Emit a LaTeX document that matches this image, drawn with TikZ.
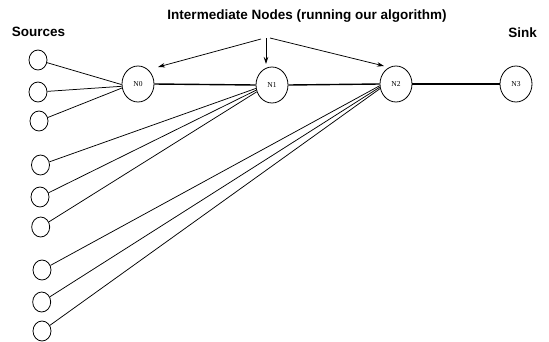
\documentclass[tikz,border=0pt]{standalone}
\usepackage{fontspec}
\setmainfont{Liberation Serif}
\setsansfont{Liberation Sans}
\usetikzlibrary{shapes.geometric,arrows.meta}
\tikzset{
  mainnode/.style={draw, ellipse, line width=0.8pt, minimum width=32pt, minimum height=36pt, inner sep=0pt, font=\fontsize{7.5}{9}\selectfont},
  srcnode/.style={draw, ellipse, line width=0.8pt, minimum width=18pt, minimum height=20pt, inner sep=0pt},
  thinlink/.style={line width=0.75pt},
  chainlink/.style={line width=1.4pt},
  pointer/.style={line width=0.75pt, -{Stealth[length=7pt,width=4.5pt]}},
  heading/.style={font=\sffamily\bfseries\fontsize{13.5}{16}\selectfont, anchor=base, inner sep=0pt}
}
\begin{document}
\begin{tikzpicture}[x=1pt,y=-1pt]
\useasboundingbox (0,0) rectangle (549,341);
% headings
\node[heading] (title) at (307,19) {Intermediate Nodes (running our algorithm)};
\node[heading] (sources) at (38.5,36) {Sources};
\node[heading] (sink) at (522.5,37) {Sink};
% main nodes
\node[mainnode] (N0) at (138,84) {N0};
\node[mainnode] (N1) at (272,85) {N1};
\node[mainnode] (N2) at (396,84) {N2};
\node[mainnode] (N3) at (516,84) {N3};
% sources
\node[srcnode] (S1) at (38,60) {};
\node[srcnode] (S2) at (38,92) {};
\node[srcnode] (S3) at (39,121) {};
\node[srcnode] (S4) at (40.5,165) {};
\node[srcnode] (S5) at (40,197) {};
\node[srcnode] (S6) at (40.7,227) {};
\node[srcnode] (S7) at (42,270) {};
\node[srcnode] (S8) at (41.7,302) {};
\node[srcnode] (S9) at (42,331) {};
% chain
\draw[chainlink] (N0.east) -- (N1.west);
\draw[chainlink] (N1.east) -- (N2.west);
\draw[chainlink] (N2.east) -- (N3.west);
% source links
\draw[thinlink] (S1) -- (N0.182);
\draw[thinlink] (S2) -- (N0.188);
\draw[thinlink] (S3) -- (N0.194);
\draw[thinlink] (S4) -- (N1.192);
\draw[thinlink] (S5) -- (N1.198);
\draw[thinlink] (S6) -- (N1.204);
\draw[thinlink] (S7) -- (N2.186);
\draw[thinlink] (S8) -- (N2.191);
\draw[thinlink] (S9) -- (N2.196);
% pointers
\coordinate (pl) at (261,39);
\coordinate (pm) at (266,38);
\coordinate (pr) at (270,38);
\coordinate (tl) at (158,67);
\coordinate (tm) at (266,64);
\coordinate (tr) at (384,66);
\draw[pointer] (pl) -- (tl);
\draw[pointer] (pm) -- (tm);
\draw[pointer] (pr) -- (tr);
\end{tikzpicture}
\end{document}
